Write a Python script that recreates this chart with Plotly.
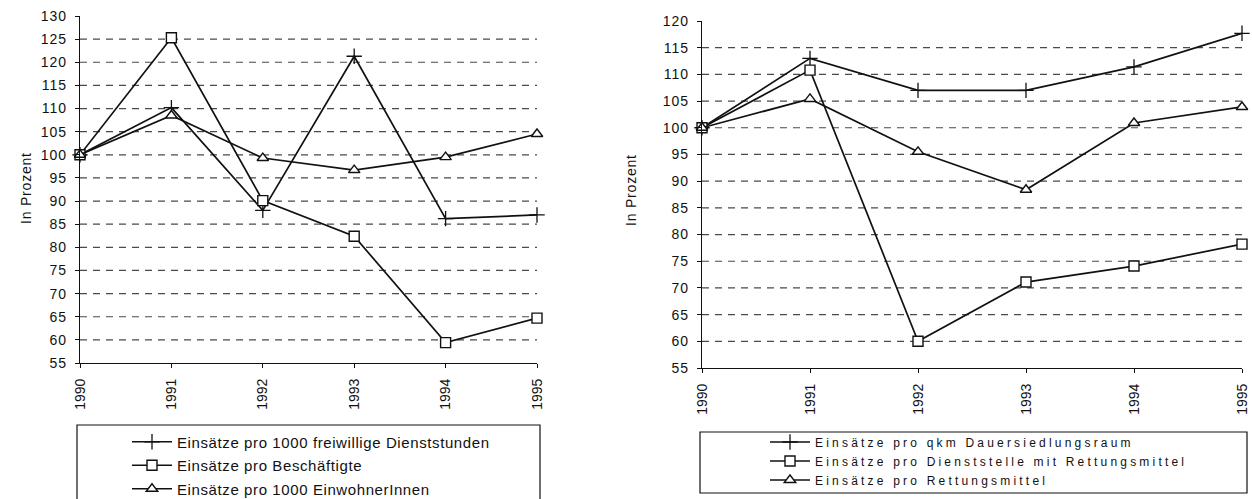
import json
import plotly.graph_objects as go

# ---- data -------------------------------------------------------------
years = [1990, 1991, 1992, 1993, 1994, 1995]

# left panel (index, 1990 = 100)
left_names = [
    "Einsätze pro 1000 freiwillige Dienststunden",
    "Einsätze pro Beschäftigte",
    "Einsätze pro 1000 EinwohnerInnen",
]
dienststunden = [100, 110.2, 88.0, 121.3, 86.2, 87.0]
beschaeftigte = [100, 125.3, 90.1, 82.4, 59.4, 64.7]
einwohner = [100, 108.5, 99.3, 96.7, 99.5, 104.5]

# right panel (index, 1990 = 100)
right_names = [
    "Einsätze pro qkm Dauersiedlungsraum",
    "Einsätze pro Dienststelle mit Rettungsmittel",
    "Einsätze pro Rettungsmittel",
]
qkm = [100, 113.0, 107.0, 107.0, 111.4, 117.7]
dienststelle = [100, 110.8, 60.0, 71.1, 74.1, 78.2]
rettungsmittel = [100, 105.4, 95.5, 88.4, 100.9, 103.9]

left_ticks = list(range(55, 131, 5))
left_grid = list(range(60, 126, 5))
right_ticks = list(range(55, 121, 5))
right_grid = list(range(60, 116, 5))

y_title = "In Prozent"

# ---- styling ----------------------------------------------------------
W, H = 1252, 499
FONT = "Liberation Sans, Arial, sans-serif"
INK = "#111111"
GRID = "#4a4a4a"

symbols = [
    dict(symbol="cross-thin", size=11, color=INK, line=dict(color=INK, width=1.3)),
    dict(symbol="square", size=10, color="white", line=dict(color=INK, width=1.4)),
    dict(symbol="triangle-up", size=10, color="white", line=dict(color=INK, width=1.4)),
]

fig = go.Figure()

for name, vals, sym, grp in zip(left_names, [dienststunden, beschaeftigte, einwohner], symbols, "abc"):
    fig.add_trace(go.Scatter(
        x=years, y=vals, name=name, mode="lines+markers",
        line=dict(color=INK, width=1.7), marker=sym, cliponaxis=False,
        xaxis="x", yaxis="y", legend="legend", legendgroup="L" + grp,
    ))

for name, vals, sym, grp in zip(right_names, [qkm, dienststelle, rettungsmittel], symbols, "abc"):
    fig.add_trace(go.Scatter(
        x=years, y=vals, name=name, mode="lines+markers",
        line=dict(color=INK, width=1.7), marker=sym, cliponaxis=False,
        xaxis="x2", yaxis="y2", legend="legend2", legendgroup="R" + grp,
    ))


def px_x(v):
    return v / W


def px_y(v):
    return 1 - v / H


xcommon = dict(
    tickmode="array", tickvals=years, ticktext=[str(y) for y in years],
    tickangle=-90, tickfont=dict(family=FONT, size=14, color=INK),
    showgrid=False, zeroline=False, automargin=False,
    showline=True, linecolor=INK, linewidth=1.2,
    ticks="outside", ticklen=4, tickcolor=INK, ticklabelstandoff=5,
    range=[1990, 1995],
)
ycommon = dict(
    tickmode="array", tickfont=dict(family=FONT, size=14, color=INK),
    showgrid=False, zeroline=False, automargin=False,
    showline=True, linecolor=INK, linewidth=1.2,
    ticks="outside", ticklen=4, tickcolor=INK, ticklabelstandoff=5,
)

# dashed horizontal gridlines, one per grid value, across each panel
grid_shapes = []
for axis_x, axis_y, values in (("x", "y", left_grid), ("x2", "y2", right_grid)):
    for v in values:
        grid_shapes.append(dict(
            type="line", xref=axis_x + " domain", yref=axis_y,
            x0=0, x1=1, y0=v, y1=v, layer="below",
            line=dict(color=GRID, width=1.2, dash="7px,6px"),
        ))

legend_boxes = [
    dict(type="rect", xref="paper", yref="paper",
         x0=px_x(77), x1=px_x(540), y0=px_y(520), y1=px_y(425),
         line=dict(color=INK, width=1.2), fillcolor="rgba(0,0,0,0)"),
    dict(type="rect", xref="paper", yref="paper",
         x0=px_x(700), x1=px_x(1247), y0=px_y(493), y1=px_y(432),
         line=dict(color=INK, width=1.2), fillcolor="rgba(0,0,0,0)"),
]

fig.update_layout(
    width=W, height=H,
    margin=dict(l=0, r=0, t=0, b=0, autoexpand=False),
    paper_bgcolor="white", plot_bgcolor="white",
    font=dict(family=FONT, color=INK),
    xaxis=dict(domain=[px_x(80), px_x(537)], anchor="y", **xcommon),
    yaxis=dict(domain=[px_y(363), px_y(16)], anchor="x", range=[55, 130],
               tickvals=left_ticks, **ycommon),
    xaxis2=dict(domain=[px_x(702), px_x(1242)], anchor="y2", **xcommon),
    yaxis2=dict(domain=[px_y(368), px_y(21)], anchor="x2", range=[55, 120],
                tickvals=right_ticks, **ycommon),
    legend=dict(
        x=px_x(127), y=px_y(425.5), xanchor="left", yanchor="top",
        bgcolor="rgba(0,0,0,0)", borderwidth=0, tracegroupgap=1,
        font=dict(family=FONT, size=15, color=INK), itemwidth=40,
    ),
    legend2=dict(
        x=px_x(765), y=px_y(427.5), xanchor="left", yanchor="top",
        bgcolor="rgba(0,0,0,0)", borderwidth=0, tracegroupgap=0,
        font=dict(family=FONT, size=12, color=INK), itemwidth=40,
    ),
    showlegend=True,
    annotations=[
        dict(text=y_title, textangle=-90, x=px_x(26), y=px_y(188),
             xref="paper", yref="paper", xanchor="center", yanchor="middle",
             showarrow=False, font=dict(family=FONT, size=14, color=INK)),
        dict(text=y_title, textangle=-90, x=px_x(631), y=px_y(190),
             xref="paper", yref="paper", xanchor="center", yanchor="middle",
             showarrow=False, font=dict(family=FONT, size=14, color=INK)),
    ],
    shapes=grid_shapes + legend_boxes,
)

# letter spacing for tick labels and legend entries (typewriter-like spacing)
STYLE_JS = """
var css = [
  '.ytick text, .y2tick text { letter-spacing: 1px; }',
  '.annotation-text { letter-spacing: 0.8px; }',
  'text.legendtext { letter-spacing: 0.6px; }',
  '.infolayer .scrollbox { clip-path: none !important; }'
].join('\\n');
var styleEl = document.createElement('style');
styleEl.textContent = css;
document.head.appendChild(styleEl);

var wideNames = %s;
function spaceWide() {
  document.querySelectorAll('text').forEach(function (t) {
    if (wideNames.indexOf(t.textContent) >= 0) {
      t.style.letterSpacing = '3.2px';
    }
  });
  document.querySelectorAll('.scrollbox').forEach(function (g) {
    g.removeAttribute('clip-path');
  });
}
spaceWide();
[30, 100, 300, 800, 1500].forEach(function (ms) { setTimeout(spaceWide, ms); });
var gd = document.getElementById('{plot_id}');
if (gd && gd.on) { gd.on('plotly_afterplot', spaceWide); }
""" % json.dumps(right_names)

fig.write_html("out.html", post_script=STYLE_JS)
